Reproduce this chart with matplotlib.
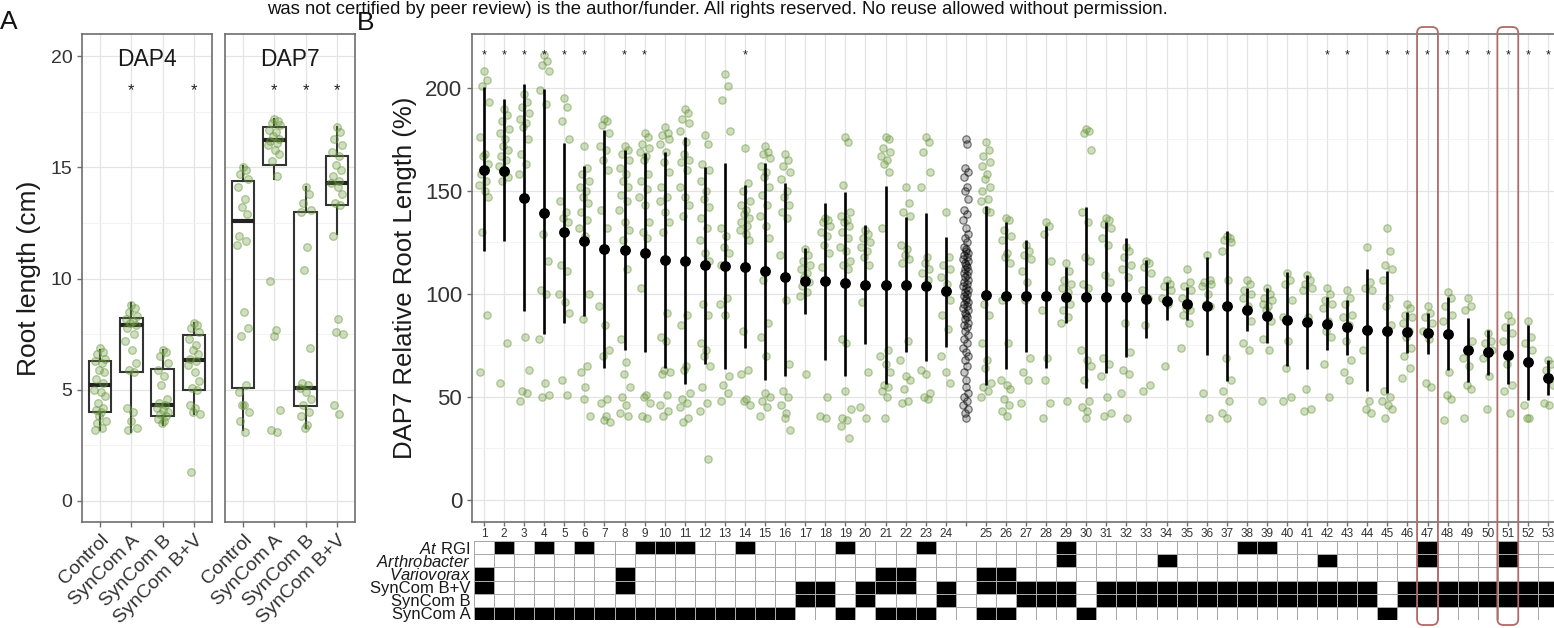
import matplotlib
matplotlib.use('Agg')
import matplotlib.pyplot as plt
import numpy as np
from matplotlib.patches import FancyBboxPatch
from matplotlib.colors import ListedColormap
import matplotlib.transforms as mtransforms

plt.rcParams['font.family'] = ['Liberation Sans', 'DejaVu Sans']
plt.rcParams['mathtext.fontset'] = 'custom'
plt.rcParams['mathtext.it'] = 'Liberation Sans:italic'
plt.rcParams['mathtext.rm'] = 'Liberation Sans'

# ---------------- Panel A data ----------------
groups_a = ['Control', 'SynCom A', 'SynCom B', 'SynCom B+V']
dap4_q1 = [4.0, 5.8, 3.8, 5.0]
dap4_med = [5.2, 7.9, 4.3, 6.35]
dap4_q3 = [6.3, 8.25, 5.95, 7.45]
dap4_lo = [3.2, 3.1, 3.4, 3.9]
dap4_hi = [6.8, 8.9, 6.8, 8.0]
dap4_star = [False, True, False, True]

dap7_q1 = [5.1, 15.1, 4.25, 13.3]
dap7_med = [12.6, 16.25, 5.1, 14.3]
dap7_q3 = [14.4, 16.8, 13.0, 15.5]
dap7_lo = [3.2, 14.5, 3.3, 12.0]
dap7_hi = [15.05, 17.2, 14.1, 16.8]
dap7_star = [False, True, True, True]

dap4_control = [6.9, 6.7, 6.6, 6.4, 6.3, 6.2, 5.9, 5.8, 5.5, 5.3, 5.0, 4.9, 4.7, 4.4, 4.2, 4.1, 4.0, 3.8, 3.6, 3.5, 3.3, 3.2]
dap4_syna = [8.8, 8.7, 8.5, 8.3, 8.2, 8.1, 8.0, 7.9, 7.8, 7.5, 7.2, 6.8, 6.2, 5.9, 5.8, 4.2, 4.0, 3.6, 3.3, 3.2]
dap4_synb = [6.8, 6.7, 6.5, 6.2, 5.9, 5.6, 5.2, 4.6, 4.4, 4.3, 4.2, 4.1, 4.0, 3.9, 3.8, 3.7, 3.6, 3.5]
dap4_synbv = [8.0, 7.9, 7.8, 7.6, 7.3, 7.0, 6.8, 6.6, 6.4, 6.3, 6.1, 5.8, 5.4, 5.1, 5.0, 4.3, 4.2, 4.0, 3.9, 1.3]
dap7_control = [15.0, 14.9, 14.7, 14.5, 14.1, 13.6, 13.2, 12.9, 11.9, 11.7, 11.5, 8.5, 7.8, 7.4, 5.2, 4.9, 4.3, 4.3, 4.0, 3.6, 3.1]
dap7_syna = [17.2, 17.1, 17.0, 16.9, 16.7, 16.6, 16.4, 16.3, 16.2, 16.1, 16.0, 15.8, 15.6, 15.3, 14.6, 9.9, 7.7, 7.4, 4.1, 3.2, 3.1]
dap7_synb = [14.1, 13.8, 13.4, 13.1, 13.0, 11.4, 10.4, 6.9, 5.3, 5.2, 5.1, 4.9, 4.6, 4.3, 4.0, 3.8, 3.4, 3.3]
dap7_synbv = [16.8, 16.6, 16.3, 16.0, 15.7, 15.5, 15.1, 14.9, 14.6, 14.4, 14.3, 14.1, 13.8, 13.4, 13.3, 11.9, 8.2, 7.6, 7.5, 4.3, 3.9]

# ---------------- Panel B data ----------------
strain_labels = [str(i) for i in range(1, 25)] + [''] + [str(i) for i in range(25, 54)]
rel_means = [160, 159.7, 146.5, 139.5, 130, 125.8, 121.8, 121.5, 120, 116.5, 116.1, 113.9, 113.5, 113.2, 111, 108.1,
             106.5, 106.1, 105.2, 104.5, 104.5, 104.4, 104, 101.3,
             99.7, 99.2, 99.2, 98.9, 98.7, 98.4, 98.4, 98.4, 97.6, 96.8,
             95.2, 94.4, 94, 92.3, 89.5, 87.6, 86.6, 85.5, 83.9, 82.3, 81.8, 81.3, 81, 80.6, 72.9, 71.6, 70.6, 66.9, 59.4]
rel_low = [121, 125.5, 91.5, 80.6, 85.8, 89.2, 64.2, 72.9, 71.8, 64.2, 56.5, 66.1, 63.4, 73.7, 58, 60,
           90.3, 68, 60, 75.5, 56.5, 71.8, 67.7, 74.2,
           56, 63.4, 71.8, 64, 85.8, 54.4, 61.6, 69.4, 78.5, 87.4,
           87.4, 70.6, 57.6, 82, 76.3, 64.8, 63.4, 72.6, 70.6, 52.9, 52.1, 71.3, 71, 62.9, 57.3, 60.5, 56.5, 48.7, 50.8]
rel_high = [200.6, 194.7, 202, 199.3, 173.4, 162, 179.6, 169.9, 168.6, 169, 176, 161.8, 163.8, 152.9, 163.8, 153.7,
            122.3, 144, 149.7, 133.5, 152.4, 137.4, 139.5, 127.7,
            142.7, 134.7, 126, 133, 113, 142.3, 135, 127, 116.6, 106,
            103.2, 118, 130.6, 102.9, 102.7, 110.5, 109.2, 98.4, 97.3, 112, 111, 91.1, 90.8, 98.4, 88.4, 82.3, 85.2, 85, 68]
rel_star = [1, 2, 3, 4, 5, 6, 8, 9, 14, 42, 43, 45, 46, 47, 48, 49, 50, 51, 52, 53]
highlight = [47, 51]

rel_points = [
    [208, 204, 201, 193, 176, 168, 167, 163, 158, 155, 153, 150, 147, 130, 90, 62],
    [190, 187, 184, 180, 178, 175, 172, 170, 167, 165, 162, 159, 157, 155, 76, 57],
    [197, 193, 191, 188, 185, 183, 181, 175, 168, 163, 158, 79, 63, 53, 52, 48],
    [216, 213, 211, 208, 199, 192, 129, 116, 102, 100, 78, 57, 51, 50],
    [195, 191, 184, 175, 145, 140, 137, 135, 114, 111, 100, 96, 91, 58, 51],
    [172, 161, 158, 155, 152, 150, 147, 144, 140, 136, 132, 128, 100, 88, 65, 62, 55, 49, 41],
    [185, 184, 182, 178, 172, 170, 165, 160, 141, 132, 94, 85, 73, 70, 49, 47, 41, 39, 38],
    [172, 170, 168, 165, 161, 158, 155, 152, 148, 145, 141, 135, 131, 126, 112, 78, 67, 61, 55, 50, 46, 42, 41],
    [178, 176, 173, 171, 169, 167, 165, 158, 155, 151, 147, 143, 135, 130, 127, 103, 51, 50, 47, 41, 40],
    [181, 178, 177, 175, 173, 169, 164, 159, 152, 147, 145, 140, 135, 130, 91, 79, 77, 63, 62, 61, 51, 46, 43, 41],
    [190, 188, 185, 183, 179, 174, 168, 165, 164, 160, 152, 147, 143, 138, 90, 85, 65, 63, 52, 49, 47, 45, 40, 38],
    [177, 173, 163, 160, 155, 150, 146, 142, 137, 132, 126, 120, 116, 95, 90, 76, 73, 70, 65, 55, 47, 43, 20],
    [207, 201, 194, 179, 132, 128, 123, 120, 114, 98, 95, 90, 60, 56, 52, 48],
    [171, 154, 150, 145, 143, 141, 139, 137, 135, 133, 131, 129, 126, 82, 63, 61, 49, 48, 46],
    [172, 169, 168, 166, 162, 159, 157, 152, 148, 143, 138, 133, 127, 107, 86, 79, 70, 52, 50, 48, 45, 41],
    [168, 165, 162, 159, 156, 150, 147, 143, 140, 137, 119, 97, 66, 53, 50, 46, 42, 40, 34],
    [122, 119, 116, 114, 112, 110, 108, 106, 104, 101, 99, 61],
    [137, 136, 135, 133, 130, 128, 124, 120, 113, 50, 41, 40],
    [176, 174, 153, 140, 138, 136, 135, 133, 130, 127, 123, 121, 116, 114, 112, 78, 76, 53, 44, 40, 39, 36, 30],
    [131, 129, 127, 125, 123, 121, 118, 114, 96, 62, 45, 40],
    [176, 175, 171, 169, 167, 165, 163, 159, 132, 73, 70, 66, 62, 56, 55, 53, 50, 40],
    [152, 144, 140, 138, 124, 122, 119, 117, 115, 77, 68, 60, 58, 54, 48, 47],
    [176, 174, 169, 159, 152, 118, 115, 112, 110, 107, 63, 61, 52, 50, 49],
    [140, 118, 114, 112, 108, 105, 101, 97, 90, 83, 70, 62, 57],
    [174, 170, 167, 164, 162, 158, 156, 152, 150, 146, 145, 141, 140, 95, 90, 76, 68, 64, 57, 55, 53, 50],
    [137, 136, 131, 128, 126, 120, 118, 115, 97, 76, 58, 56, 54, 49, 46, 43, 41],
    [124, 121, 119, 117, 111, 106, 97, 69, 62, 58, 47],
    [135, 133, 129, 116, 92, 69, 58, 47, 40],
    [115, 111, 107, 105, 103, 101, 98, 95, 92, 89, 86, 48],
    [180, 179, 178, 170, 140, 135, 118, 116, 105, 103, 73, 68, 65, 58, 48, 45, 43, 40],
    [137, 136, 134, 132, 127, 124, 109, 106, 69, 66, 60, 50, 42, 41],
    [123, 121, 118, 114, 112, 108, 86, 72, 63, 61, 52, 40],
    [116, 115, 113, 110, 102, 98, 85, 56, 53],
    [107, 105, 104, 102, 98, 95, 65],
    [112, 106, 104, 102, 98, 95, 93, 92, 90, 86, 74],
    [119, 107, 106, 105, 104, 100, 95, 94, 52, 40],
    [128, 127, 126, 125, 121, 107, 69, 58, 53, 48, 42, 40],
    [107, 105, 102, 100, 98, 94, 92, 87, 76, 73],
    [103, 100, 98, 97, 95, 94, 92, 87, 78, 73, 48],
    [110, 107, 105, 97, 89, 77, 64, 50, 48],
    [109, 107, 105, 103, 102, 89, 54, 44, 43],
    [103, 100, 97, 95, 93, 87, 82, 79, 66, 50],
    [102, 98, 95, 90, 89, 85, 77, 68, 62, 58],
    [123, 106, 103, 102, 73, 48, 44, 42],
    [132, 121, 114, 112, 107, 98, 94, 85, 53, 50, 48, 46, 44, 40],
    [95, 93, 90, 89, 86, 82, 79, 74, 70, 64, 59],
    [94, 91, 89, 86, 82, 78, 57, 55],
    [101, 98, 94, 90, 87, 62, 51, 49, 39],
    [98, 94, 92, 77, 69, 65, 56, 54, 40],
    [81, 77, 76, 73, 69, 60, 44],
    [90, 87, 84, 81, 77, 70, 66, 56, 53, 42],
    [87, 79, 76, 73, 46, 40, 40],
    [68, 66, 63, 56, 47, 46],
]
ctrl_points = [175, 173, 161, 159, 157, 152, 150, 146, 141, 139, 136, 132, 129, 127, 125, 123, 122, 121, 120, 119,
               118, 117, 116, 115, 114, 113, 112, 111, 110, 109, 108, 107, 106, 105, 104, 103, 102, 101, 100, 99,
               98, 97, 96, 95, 94, 93, 92, 91, 90, 89, 88, 86, 85, 84, 82, 80, 78, 76, 74, 72, 70, 68, 65, 62,
               58, 55, 52, 50, 48, 46, 44, 42, 40]

# membership matrix (strain numbers that are filled in each row)
row_names = [r'$\mathit{At}$ RGI', r'$\mathit{Arthrobacter}$', r'$\mathit{Variovorax}$', 'SynCom B+V', 'SynCom B', 'SynCom A']
at_rgi = [2, 4, 6, 9, 10, 11, 14, 19, 23, 29, 38, 39, 47, 51]
arthro = [29, 34, 42, 47, 51]
vario = [1, 8, 21, 22, 25, 26]
syn_bv = [1, 8, 17, 18, 20, 21, 22, 24, 25, 26, 27, 28, 29, 31, 32, 33, 34, 35, 36, 37, 38, 39, 40, 41, 42, 43, 44,
          46, 47, 48, 49, 50, 51, 52, 53]
syn_b = [17, 18, 20, 24, 27, 28, 29, 31, 32, 33, 34, 35, 36, 37, 38, 39, 40, 41, 42, 43, 44,
         46, 47, 48, 49, 50, 51, 52, 53]
syn_a = [1, 2, 3, 4, 5, 6, 7, 8, 9, 10, 11, 12, 13, 14, 15, 16, 19, 21, 22, 23, 25, 26, 30, 45]
member_rows = [at_rgi, arthro, vario, syn_bv, syn_b, syn_a]

# ---------------- style ----------------
W, H = 1554, 628
fig = plt.figure(figsize=(W / 100, H / 100), dpi=100)

def rect(l, t, r, b):
    return [l / W, 1 - b / H, (r - l) / W, (b - t) / H]

GREEN = (0.42, 0.60, 0.24)
PT_FACE = GREEN + (0.32,)
PT_EDGE = GREEN + (0.5,)
GRID = '#e4e4e4'
GRID_MINOR = '#f1f1f1'
SPINE = '#6e6e6e'
TXT = '#333333'
JIT = [0.0, 0.55, -0.45, 0.85, -0.8, 0.25, -0.2, 0.7, -0.65, 0.4, -0.95, 0.1, 0.8, -0.35, 0.5, -0.7,
       0.2, -0.1, 0.95, -0.55, 0.35, -0.85, 0.6, -0.3]

def jit(n, w):
    return np.array([JIT[i % len(JIT)] * w for i in range(n)])

def style_axes(ax):
    for s in ax.spines.values():
        s.set_color(SPINE)
        s.set_linewidth(1.2)
    ax.grid(True, which='major', color=GRID, lw=0.9, zorder=0)
    ax.grid(True, which='minor', axis='y', color=GRID_MINOR, lw=0.6, zorder=0)
    ax.set_axisbelow(True)
    ax.tick_params(colors=SPINE, labelcolor=TXT, length=3.5, width=1)
    ax.tick_params(which='minor', length=0)

# ---------------- Panel A ----------------
ax4 = fig.add_axes(rect(82, 34, 212, 522))
ax7 = fig.add_axes(rect(225, 34, 355, 522))
panelA = [
    (ax4, 'DAP4', dap4_q1, dap4_med, dap4_q3, dap4_lo, dap4_hi, dap4_star,
     [dap4_control, dap4_syna, dap4_synb, dap4_synbv]),
    (ax7, 'DAP7', dap7_q1, dap7_med, dap7_q3, dap7_lo, dap7_hi, dap7_star,
     [dap7_control, dap7_syna, dap7_synb, dap7_synbv]),
]
for ax, title, q1, med, q3, lo, hi, star, pts in panelA:
    stats = [dict(q1=q1[i], med=med[i], q3=q3[i], whislo=lo[i], whishi=hi[i], fliers=[])
             for i in range(4)]
    pos = np.arange(1, 5)
    ax.bxp(stats, positions=pos, widths=0.72, patch_artist=True, showfliers=False, showcaps=False,
           boxprops=dict(facecolor='white', edgecolor='#333333', linewidth=1.5),
           medianprops=dict(color='#222222', linewidth=3.0),
           whiskerprops=dict(color='#333333', linewidth=1.5), zorder=2)
    for i, vals in enumerate(pts):
        ax.scatter(pos[i] + jit(len(vals), 0.2), vals, s=30, facecolors=PT_FACE, edgecolors=PT_EDGE,
                   linewidths=0.9, zorder=3)
        if star[i]:
            ax.text(pos[i], 18.45, '*', ha='center', va='center', fontsize=12, color='#222222')
    ax.text(2.5, 19.86, title, ha='center', va='center', fontsize=16.5, color='#1a1a1a')
    ax.set_xlim(0.425, 4.575)
    ax.set_ylim(-0.945, 21.0)
    ax.set_yticks([0, 5, 10, 15, 20])
    ax.set_yticks([2.5, 7.5, 12.5, 17.5], minor=True)
    ax.set_xticks(pos)
    ax.set_xticklabels(groups_a, rotation=45, ha='right', va='top', rotation_mode='anchor', fontsize=14)
    style_axes(ax)
    ax.tick_params(axis='y', labelsize=14)

ax7.tick_params(axis='y', left=False, labelleft=False)
ax4.set_ylabel('Root length (cm)', fontsize=19, color='#1a1a1a', labelpad=7)

# ---------------- Panel B ----------------
axb = fig.add_axes(rect(472, 34, 1560, 522))
n_cols = len(strain_labels)
positions = np.arange(1, n_cols + 1)
strain_pos = {}
for p, lab in zip(positions, strain_labels):
    if lab != '':
        strain_pos[int(lab)] = p
ctrl_pos = positions[strain_labels.index('')]

for s in range(1, 54):
    vals = rel_points[s - 1]
    axb.scatter(strain_pos[s] + jit(len(vals), 0.27), vals, s=28, facecolors=PT_FACE, edgecolors=PT_EDGE,
                linewidths=0.9, zorder=3)
axb.scatter(ctrl_pos + jit(len(ctrl_points), 0.14), ctrl_points, s=28, facecolors=(0, 0, 0, 0.22),
            edgecolors=(0, 0, 0, 0.5), linewidths=0.9, zorder=3)

xs = np.array([strain_pos[s] for s in range(1, 54)])
axb.vlines(xs, rel_low, rel_high, color='black', lw=1.9, zorder=4)
axb.scatter(xs, rel_means, s=46, color='black', zorder=5)
for s in rel_star:
    axb.text(strain_pos[s], 216.0, '*', ha='center', va='center', fontsize=9, color='#222222')

axb.set_xlim(0.4, 54.6)
axb.set_ylim(-10.7, 226.2)
axb.set_yticks([0, 50, 100, 150, 200])
axb.set_yticks([25, 75, 125, 175], minor=True)
axb.set_xticks(positions)
axb.set_xticklabels(strain_labels, fontsize=8.5)
style_axes(axb)
axb.tick_params(axis='y', labelsize=16)
axb.tick_params(axis='x', pad=1.5, length=3)
axb.set_ylabel('DAP7 Relative Root Length (%)', fontsize=18.5, color='#1a1a1a', labelpad=6)

# ---------------- membership matrix ----------------
axm = fig.add_axes(rect(472, 541, 1560, 620))
mat = np.zeros((6, n_cols))
for r, members in enumerate(member_rows):
    for s in members:
        mat[5 - r, strain_pos[s] - 1] = 1
xe = np.arange(0.5, n_cols + 1.0, 1.0)
ye = np.arange(0, 7)
axm.pcolormesh(xe, ye, mat, cmap=ListedColormap(['white', 'black']), vmin=0, vmax=1,
               edgecolors='#a8a8a8', linewidth=0.6)
axm.set_xlim(0.4, 54.6)
axm.set_ylim(0, 6)
for s in axm.spines.values():
    s.set_visible(False)
axm.set_xticks([])
axm.set_yticks(np.arange(6) + 0.5)
axm.set_yticklabels(row_names[::-1], fontsize=12, color='#1a1a1a')
axm.tick_params(axis='y', length=0, pad=1)

# ---------------- highlight boxes ----------------
for s in highlight:
    p = strain_pos[s]
    x0 = axb.transData.transform((p - 0.52, 0))[0]
    x1 = axb.transData.transform((p + 0.52, 0))[0]
    y0 = H - 625
    y1 = H - 27
    fig.add_artist(FancyBboxPatch((x0, y0), x1 - x0, y1 - y0,
                                  boxstyle='round,pad=0,rounding_size=6',
                                  transform=mtransforms.IdentityTransform(),
                                  fill=False, ec='#b06a68', lw=1.3, zorder=10))

# ---------------- headers ----------------
fig.text(717 / W, 1 - 14 / H,
         'was not certified by peer review) is the author/funder. All rights reserved. No reuse allowed without permission.',
         ha='center', va='baseline', fontsize=13.3, color='#111111')
fig.text(0.0, 1 - 29 / H, 'A', fontsize=19, color='#111111', va='baseline')
fig.text(357 / W, 1 - 30 / H, 'B', fontsize=19, color='#111111', va='baseline')

fig.savefig('out.png', dpi=100)
